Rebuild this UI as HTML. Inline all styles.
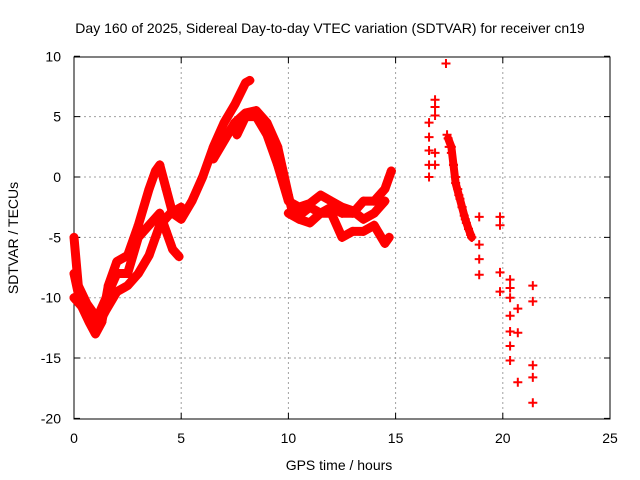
<!DOCTYPE html>
<html><head><meta charset="utf-8"><style>
body{margin:0;background:#fff}
svg{display:block;font-family:"Liberation Sans",sans-serif}
</style></head><body>
<svg id="chart" width="640" height="480">
<rect width="640" height="480" fill="#fff"/>
<text x="330" y="33" font-size="14" text-anchor="middle">Day 160 of 2025, Sidereal Day-to-day VTEC variation (SDTVAR) for receiver cn19</text>
<text x="339" y="470" font-size="14" text-anchor="middle">GPS time / hours</text>
<text transform="translate(18,238) rotate(-90)" font-size="14" text-anchor="middle">SDTVAR / TECUs</text>
<g id="grid"></g><g id="axes"></g><g id="series"></g>
</svg>
<script>
const xTicks=[0,5,10,15,20,25];
const yTicks=[10,5,0,-5,-10,-15,-20];
const traceA=[[0,-8],[0.3,-10.5],[0.7,-12],[1.0,-13],[1.3,-12],[1.6,-9],[2,-7],[2.5,-6.5],[3,-4],[3.5,-1],[3.8,0.5],[4.0,1],[4.3,-1],[4.6,-3],[5,-3.5],[5.5,-2],[6,0],[6.5,2.5],[7,4.5],[7.5,6],[8,7.8],[8.2,8]];
const traceB=[[0,-10],[0.5,-11],[1,-12],[1.5,-10],[2,-8],[2.5,-8],[3,-5],[3.5,-4],[4,-3],[4.3,-4.5],[4.6,-6],[4.9,-6.6]];
const traceC=[[0,-5],[0.2,-9],[0.6,-10.5],[1.2,-12],[1.5,-11],[2,-9.5],[2.5,-9],[3,-8],[3.5,-6.5],[4,-4],[4.5,-3],[5,-2.5]];
const traceD=[[6.5,1.5],[7,3],[7.5,4.5],[8,5.3],[8.5,5.5],[9,4.5],[9.5,2.5],[10,-1.5],[10.2,-3],[10.5,-3.2],[11,-2.5],[11.5,-3],[12,-2.5],[12.5,-3],[13,-3],[13.5,-2],[14,-2],[14.5,-1],[14.8,0.5]];
const traceE=[[7.6,3.5],[8,5],[8.5,5],[9,3.5],[9.5,1],[10,-2],[10.5,-2.5],[11,-2.2],[11.5,-1.5],[12,-2],[12.5,-2.5],[13,-2.8],[13.5,-3.5],[14,-3],[14.5,-2]];
const traceF=[[10,-3],[10.5,-3.5],[11,-3.8],[11.5,-3],[12,-3],[12.5,-5],[13,-4.5],[13.5,-4.5],[14,-4],[14.5,-5.5],[14.7,-5]];
const traceG=[[17.45,3.2],[17.6,2.5],[17.7,1],[17.8,-0.5],[17.95,-1.5],[18.1,-2.5],[18.25,-3.5],[18.4,-4.3],[18.55,-5]];
const scatterT=[17.35,16.84,16.84,16.84,16.56,16.56,16.56,16.56,16.56,16.84,16.84,17.4,17.5,17.6,17.7,17.8,17.9,18.0,18.1,18.2,18.3,18.4,18.5,18.55,18.9,18.9,18.9,18.9,19.87,19.87,19.87,19.87,20.34,20.34,20.34,20.34,20.34,20.34,20.34,20.7,20.7,20.7,21.4,21.4,21.4,21.4,21.4];
const scatterV=[9.4,6.4,5.8,5.1,4.5,3.3,2.2,1.0,0.0,2.0,1.0,3.5,2.5,2.0,1.0,0.0,-1.0,-1.8,-2.5,-3.2,-3.8,-4.3,-4.8,-5.0,-3.3,-5.6,-6.8,-8.1,-3.3,-4.0,-7.9,-9.5,-8.5,-10,-11.5,-12.8,-14,-15.2,-9.2,-10.9,-12.9,-17,-9,-10.3,-15.6,-16.6,-18.7];
const X=t=>74+t*21.44, Y=v=>177-v*12.07;
const NS='http://www.w3.org/2000/svg';
function mk(tag,attrs,parent){const e=document.createElementNS(NS,tag);for(const k in attrs)e.setAttribute(k,attrs[k]);parent.appendChild(e);return e;}
const grid=document.getElementById('grid'),axes=document.getElementById('axes'),ser=document.getElementById('series');
xTicks.forEach(t=>{
 if(t>0&&t<25){const g=mk('line',{x1:X(t),x2:X(t),y1:57,y2:419,stroke:'#a0a0a0','stroke-dasharray':'2,3'},grid);
 
 }
 const tk=mk('path',{d:`M${X(t)},419v-6M${X(t)},57v6`,stroke:'#000'},axes);
 
 
 const l=mk('text',{x:X(t),y:443,'font-size':14,'text-anchor':'middle'},axes);l.textContent=t;
 
 
});
yTicks.forEach(v=>{
 if(v<10&&v>-20){const g=mk('line',{x1:74,x2:610,y1:Y(v),y2:Y(v),stroke:'#a0a0a0','stroke-dasharray':'2,3'},grid);
 
 }
 const tk=mk('path',{d:`M74,${Y(v)}h6M610,${Y(v)}h-6`,stroke:'#000'},axes);
 
 
 const l=mk('text',{x:61,y:Y(v)+5,'font-size':14,'text-anchor':'end'},axes);l.textContent=v;
 
 
});
const fr=mk('rect',{x:74,y:57,width:536,height:362,fill:'none',stroke:'#000'},axes);


function plus(t,v,name){const p=mk('path',{d:`M${X(t)-4.5},${Y(v)}h9M${X(t)},${Y(v)-4.5}v9`,stroke:'#f00','stroke-width':2},ser);
 
 }
[traceA,traceB,traceC,traceD,traceE,traceF,traceG].forEach((tr,i)=>{
 const pl=mk('polyline',{points:tr.map(p=>X(p[0])+','+Y(p[1])).join(' '),fill:'none',stroke:'#f00','stroke-width':i==6?8:9,'stroke-linejoin':'round','stroke-linecap':'round'},ser);
 
 
 tr.forEach(p=>plus(p[0],p[1],'sdtvar-point'));
});
scatterT.forEach((t,i)=>plus(t,scatterV[i],'sdtvar-point'));
</script>
</body></html>
